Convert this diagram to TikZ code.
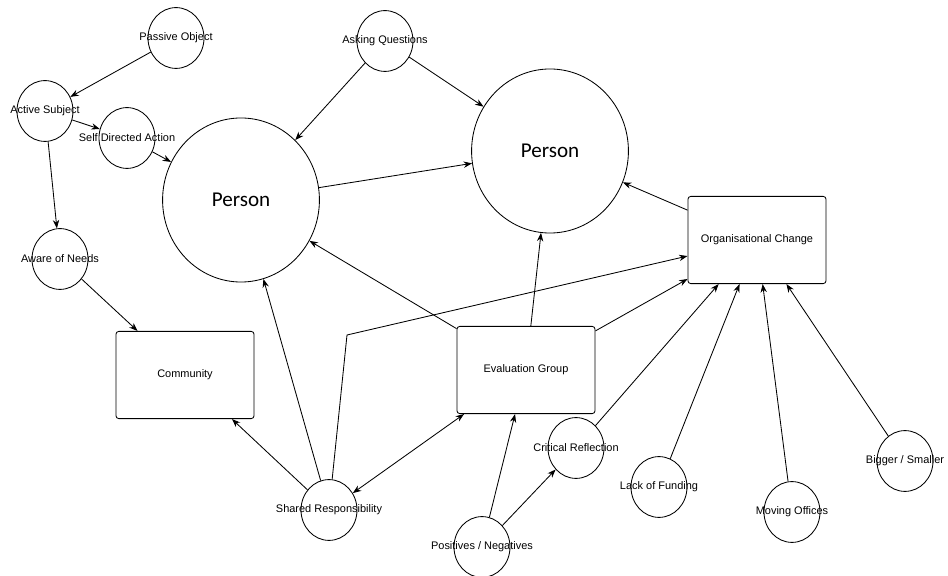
\documentclass[tikz,border=0pt]{standalone}
\usepackage{fontspec}
\setmainfont{Liberation Sans}
\newfontfamily\personfont{Carlito}
\usetikzlibrary{shapes.geometric,arrows.meta}
\newcommand{\ovr}[1]{\makebox[0pt]{#1}}

\begin{document}
\begin{tikzpicture}[x=0.025cm,y=-0.025cm,font=\fontsize{7.8}{9}\selectfont,
  >={Stealth[length=6pt,width=4.5pt]},line width=0.6pt,
  bub/.style={draw,ellipse,inner sep=0pt,minimum width=1.4cm,minimum height=1.52cm},
  big/.style={draw,ellipse,inner sep=0pt,minimum width=3.92cm,minimum height=4.1cm,font=\personfont\fontsize{15}{18}\selectfont},
  box/.style={draw,rounded corners=2pt,inner sep=0pt,minimum width=3.45cm,minimum height=2.18cm}]
\useasboundingbox (0,0) rectangle (948,576);

\node[bub] (po) at (176,38) {\ovr{Passive Object}};
\node[bub] (as) at (45,111) {\ovr{Active Subject}};
\node[bub] (sd) at (127,138) {\ovr{Self Directed Action}};
\node[bub] (an) at (60,259) {\ovr{Aware of Needs}};
\node[bub] (aq) at (385,41) {\ovr{Asking Questions}};
\node[big] (pl) at (241,200) {Person};
\node[big] (pr) at (550,151) {Person};
\node[box] (com) at (185,375) {Community};
\node[box] (eg) at (526,370) {Evaluation Group};
\node[box] (oc) at (757,240) {Organisational Change};
\node[bub] (sr) at (329,510) {\ovr{Shared Responsibility}};
\node[bub] (pn) at (482,547) {\ovr{Positives / Negatives}};
\node[bub] (cr) at (576,448) {\ovr{Critical Reflection}};
\node[bub] (lf) at (659,487) {\ovr{Lack of Funding}};
\node[bub] (mo) at (792,512) {\ovr{Moving Offices}};
\node[bub] (bs) at (905,461) {\ovr{Bigger / Smaller}};
\coordinate (kink) at (347,335);

% left chain
\draw[->] (po) -- (as);
\draw[->] (as) -- (sd);
\draw[->] (sd) -- (pl);
\draw[->] (as) -- (an);
\draw[->] (an) -- (com);
% persons
\draw[->] (aq) -- (pl);
\draw[->] (aq) -- (pr);
\draw[->] (pl) -- (pr);
\draw[->] (oc) -- (pr);
\draw[->] (eg) -- (pr);
\draw[->] (eg) -- (pl);
\draw[->] (eg) -- (oc);
% shared responsibility
\draw[->] (sr) -- (pl);
\draw[->] (sr) -- (com);
\draw[<->] (sr) -- (eg);
\draw[->] (sr) -- (kink) -- (oc);
% bottom row
\draw[->] (pn) -- (eg);
\draw[->] (pn) -- (cr);
\draw[->] (cr) -- (oc);
\draw[->] (lf) -- (oc);
\draw[->] (mo) -- (oc);
\draw[->] (bs) -- (oc);

\end{tikzpicture}
\end{document}
